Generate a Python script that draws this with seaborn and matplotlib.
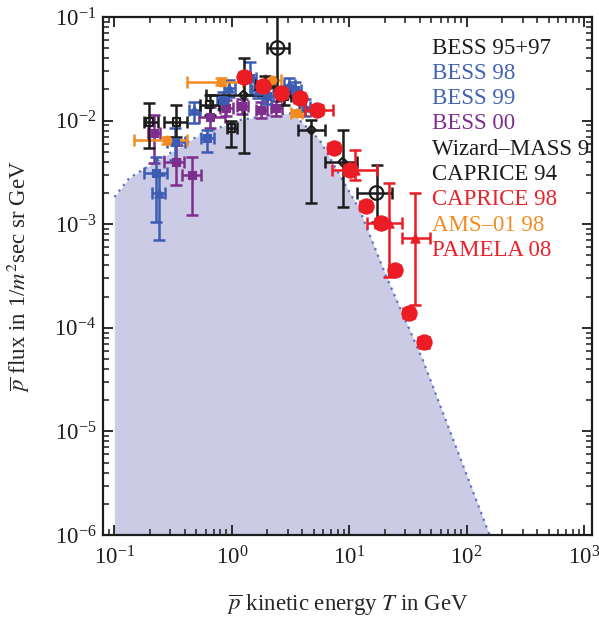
import numpy as np
import pandas as pd
import matplotlib
matplotlib.use("Agg")
import matplotlib.pyplot as plt
import seaborn as sns
from matplotlib.ticker import LogLocator, LogFormatterSciNotation, NullFormatter

# ---- secondary antiproton prediction (upper edge of shaded band) ----
band_T = [0.1, 0.134, 0.25, 0.53, 1.16, 2.1, 3.3, 4.4, 5.6, 12.3, 20.8, 42.3, 157]
band_flux = [1.83e-3, 2.79e-3, 4.3e-3, 7.26e-3, 1.01e-2, 1.13e-2, 1.18e-2,
             8.5e-3, 6.5e-3, 1.37e-3, 3.09e-4, 4.9e-5, 1.0e-6]

# ---- measurements: T [GeV], T range, flux [1/(m^2 s sr GeV)], flux range ----
bess9597_T = [0.199, 0.338, 0.646, 0.99, 1.90, 2.81]
bess9597_Tlo = [0.180, 0.267, 0.531, 0.91, 1.57, 2.45]
bess9597_Thi = [0.233, 0.419, 0.785, 1.10, 2.30, 3.20]
bess9597_F = [9.7e-3, 9.7e-3, 1.42e-2, 8.5e-3, 2.2e-2, 1.73e-2]
bess9597_Flo = [5.4e-3, 6.9e-3, 1.13e-2, 5.5e-3, 1.75e-2, 1.4e-2]
bess9597_Fhi = [1.48e-2, 1.41e-2, 1.77e-2, 1.0e-2, 2.7e-2, 2.1e-2]

bess98_T = [0.228, 0.331, 0.621, 0.834, 1.42, 2.01, 3.43]
bess98_Tlo = [0.180, 0.283, 0.551, 0.75, 1.25, 1.80, 3.05]
bess98_Thi = [0.283, 0.400, 0.711, 0.93, 1.62, 2.25, 3.85]
bess98_F = [3.12e-3, 6.2e-3, 6.8e-3, 1.58e-2, 2.58e-2, 1.73e-2, 1.97e-2]
bess98_Flo = [1.05e-3, 4.17e-3, 5.0e-3, 1.3e-2, 1.77e-2, 1.45e-2, 1.65e-2]
bess98_Fhi = [4.46e-3, 8.5e-3, 8.1e-3, 1.9e-2, 3.68e-2, 2.05e-2, 2.35e-2]

bess99_T = [0.24, 0.481, 0.955, 1.66, 3.10, 4.17]
bess99_Tlo = [0.21, 0.43, 0.86, 1.50, 2.80, 3.75]
bess99_Thi = [0.27, 0.54, 1.06, 1.85, 3.45, 4.65]
bess99_F = [2.0e-3, 1.26e-2, 2.06e-2, 1.97e-2, 2.2e-2, 1.35e-2]
bess99_Flo = [7.0e-4, 9.5e-3, 1.7e-2, 1.65e-2, 1.85e-2, 1.1e-2]
bess99_Fhi = [2.98e-3, 1.51e-2, 2.45e-2, 2.35e-2, 2.6e-2, 1.6e-2]

bess00_T = [0.219, 0.338, 0.462, 0.646, 0.90, 1.23, 1.79, 2.40]
bess00_Tlo = [0.195, 0.267, 0.38, 0.53, 0.80, 1.10, 1.60, 2.15]
bess00_Thi = [0.245, 0.395, 0.55, 0.87, 1.02, 1.38, 2.00, 2.70]
bess00_F = [7.6e-3, 3.98e-3, 2.99e-3, 1.08e-2, 1.32e-2, 1.38e-2, 1.26e-2, 1.32e-2]
bess00_Flo = [3.9e-3, 2.4e-3, 1.23e-3, 8.5e-3, 1.1e-2, 1.15e-2, 1.07e-2, 1.12e-2]
bess00_Fhi = [1.13e-2, 5.8e-3, 4.46e-3, 1.35e-2, 1.58e-2, 1.62e-2, 1.5e-2, 1.55e-2]

mass91_T = [2.45, 17.1]
mass91_Tlo = [1.98, 11.6]
mass91_Thi = [3.10, 23.0]
mass91_F = [5.02e-2, 2.0e-3]
mass91_Flo = [2.11e-2, 1.05e-3]
mass91_Fhi = [0.15, 3.73e-3]

caprice94_T = [1.26, 4.77, 8.79]
caprice94_Tlo = [0.608, 3.63, 6.17]
caprice94_Thi = [1.98, 6.17, 11.6]
caprice94_F = [1.77e-2, 8.1e-3, 3.98e-3]
caprice94_Flo = [4.9e-3, 1.6e-3, 1.47e-3]
caprice94_Fhi = [4.0e-2, 1.01e-2, 8.1e-3]

caprice98_T = [5.38, 11.1, 21.7, 36.2]
caprice98_Tlo = [4.17, 7.08, 14.1, 28.0]
caprice98_Thi = [7.23, 17.1, 28.0, 48.4]
caprice98_F = [1.27e-2, 3.34e-3, 1.03e-3, 7.36e-4]
caprice98_Flo = [1.15e-2, 2.67e-3, 3.09e-4, 1.66e-4]
caprice98_Fhi = [1.4e-2, 5.2e-3, 2.5e-3, 2.0e-3]

ams98_T = [0.283, 0.817, 2.22, 3.56]
ams98_Tlo = [0.148, 0.419, 1.9, 3.2]
ams98_Thi = [0.419, 1.25, 2.6, 4.0]
ams98_F = [6.5e-3, 2.36e-2, 2.47e-2, 1.18e-2]
ams98_Flo = [6.0e-3, 2.2e-2, 2.3e-2, 1.1e-2]
ams98_Fhi = [7.0e-3, 2.55e-2, 2.65e-2, 1.27e-2]

pamela08_T = [1.28, 1.83, 2.65, 3.78, 5.27, 7.36, 10.1, 13.8, 18.5, 24.4, 32.1, 43.0]
pamela08_Tlo = [1.15, 1.65, 2.38, 3.40, 4.74, 6.62, 9.1, 12.4, 16.6, 22.0, 28.9, 38.7]
pamela08_Thi = [1.42, 2.03, 2.94, 4.20, 5.85, 8.17, 11.2, 15.3, 20.5, 27.1, 35.6, 48.2]
pamela08_F = [2.64e-2, 2.16e-2, 1.85e-2, 1.65e-2, 1.27e-2, 5.44e-3, 3.34e-3,
              1.50e-3, 1.03e-3, 3.61e-4, 1.39e-4, 7.3e-5]
pamela08_Flo = [2.5e-2, 2.05e-2, 1.75e-2, 1.56e-2, 1.2e-2, 5.1e-3, 3.12e-3,
                1.4e-3, 9.5e-4, 3.3e-4, 1.25e-4, 6.4e-5]
pamela08_Fhi = [2.78e-2, 2.27e-2, 1.95e-2, 1.74e-2, 1.34e-2, 5.8e-3, 3.56e-3,
                1.6e-3, 1.11e-3, 3.92e-4, 1.53e-4, 8.2e-5]

experiments = ["BESS 95+97", "BESS 98", "BESS 99", "BESS 00", "Wizard\u2013MASS 91",
               "CAPRICE 94", "CAPRICE 98", "AMS\u201301 98", "PAMELA 08"]
exp_colors = ["#1c1c1c", "#4262b4", "#4262b4", "#7e2f8e", "#1c1c1c",
              "#1c1c1c", "#ec2028", "#f28c22", "#ec2028"]

BLACK, BLUE, PURPLE, RED, ORANGE = "#1c1c1c", "#3c5cb2", "#7e2f8e", "#ec1c24", "#f28c22"

sns.set_theme(style="ticks")
plt.rcParams.update({
    "font.family": ["Liberation Serif", "DejaVu Serif"],
    "mathtext.fontset": "stix",
    "axes.edgecolor": "#1c1c1c",
    "axes.linewidth": 1.6,
    "xtick.color": "#1c1c1c",
    "ytick.color": "#1c1c1c",
})

fig = plt.figure(figsize=(5.99, 6.18), dpi=100)
ax = fig.add_axes([103 / 599, 1 - 535 / 618, 489 / 599, 518 / 618])
ax.set_xscale("log")
ax.set_yscale("log")

# shaded prediction band and its dotted upper edge
ax.fill_between(band_T, band_flux, 1e-7, color="#cbcbe6", lw=0, zorder=0)
sns.lineplot(x=band_T, y=band_flux, ax=ax, color="#5a70c2", lw=1.6,
             linestyle=(0, (1, 2.2)), sort=False, zorder=1)


def draw(T, Tlo, Thi, F, Flo, Fhi, color, marker, size, filled=True, z=3):
    T, Tlo, Thi = map(np.asarray, (T, Tlo, Thi))
    F, Flo, Fhi = map(np.asarray, (F, Flo, Fhi))
    ax.errorbar(T, F, xerr=[T - Tlo, Thi - T], yerr=[F - Flo, Fhi - F],
                fmt="none", ecolor=color, elinewidth=1.8, capsize=4,
                capthick=1.8, zorder=z)
    df = pd.DataFrame({"T": T, "flux": F})
    if filled:
        sns.scatterplot(data=df, x="T", y="flux", ax=ax, color=color,
                        marker=marker, s=size, edgecolor=color, linewidth=0.8,
                        zorder=z + 0.5)
    else:
        sns.scatterplot(data=df, x="T", y="flux", ax=ax, marker=marker, s=size,
                        facecolors="none", edgecolors=color, linewidth=1.6,
                        zorder=z + 0.5)


draw(bess00_T, bess00_Tlo, bess00_Thi, bess00_F, bess00_Flo, bess00_Fhi, PURPLE, "s", 38)
draw(bess98_T, bess98_Tlo, bess98_Thi, bess98_F, bess98_Flo, bess98_Fhi, BLUE, "s", 38)
draw(bess99_T, bess99_Tlo, bess99_Thi, bess99_F, bess99_Flo, bess99_Fhi, BLUE, "^", 44)
draw(ams98_T, ams98_Tlo, ams98_Thi, ams98_F, ams98_Flo, ams98_Fhi, ORANGE, "o", 40)
draw(bess9597_T, bess9597_Tlo, bess9597_Thi, bess9597_F, bess9597_Flo, bess9597_Fhi,
     BLACK, "s", 28, filled=False)
draw(caprice94_T, caprice94_Tlo, caprice94_Thi, caprice94_F, caprice94_Flo, caprice94_Fhi,
     BLACK, "D", 20, filled=False)
draw(mass91_T, mass91_Tlo, mass91_Thi, mass91_F, mass91_Flo, mass91_Fhi,
     BLACK, "o", 95, filled=False)
draw(caprice98_T, caprice98_Tlo, caprice98_Thi, caprice98_F, caprice98_Flo, caprice98_Fhi,
     RED, "^", 44, z=4)
draw(pamela08_T, pamela08_Tlo, pamela08_Thi, pamela08_F, pamela08_Flo, pamela08_Fhi,
     RED, "o", 120, z=5)

# axes, ticks
ax.set_xlim(0.08, 1170)
ax.set_ylim(1e-6, 1e-1)
for axis in (ax.xaxis, ax.yaxis):
    axis.set_major_locator(LogLocator(base=10, numticks=20))
    axis.set_minor_locator(LogLocator(base=10, subs=np.arange(2, 10), numticks=20))
    axis.set_major_formatter(LogFormatterSciNotation())
    axis.set_minor_formatter(NullFormatter())
ax.tick_params(which="both", direction="in", top=True, right=True)
ax.tick_params(which="major", length=7, width=1.3, labelsize=16.5, pad=5)
ax.tick_params(axis="x", which="major", pad=8)
ax.tick_params(which="minor", length=4.5, width=1.1)
for s in ax.spines.values():
    s.set_color("#1c1c1c")
    s.set_linewidth(1.6)
ax.grid(False)

ax.set_xlabel(r"$\overline{p}$ kinetic energy $T$ in GeV", fontsize=16.5)
ax.set_ylabel(r"$\overline{p}$ flux in 1/$m^2$sec sr GeV", fontsize=16.5)
ax.xaxis.set_label_coords(0.5, -0.11)
ax.yaxis.set_label_coords(-0.145, 0.5)

# legend as coloured labels, clipped by the frame
for i, (name, col) in enumerate(zip(experiments, exp_colors)):
    ax.text(0.673, 0.940 - i * 0.0488, name, transform=ax.transAxes,
            color=col, fontsize=16.5, ha="left", va="center", clip_on=True,
            zorder=6)

fig.savefig("out.png", dpi=100)
